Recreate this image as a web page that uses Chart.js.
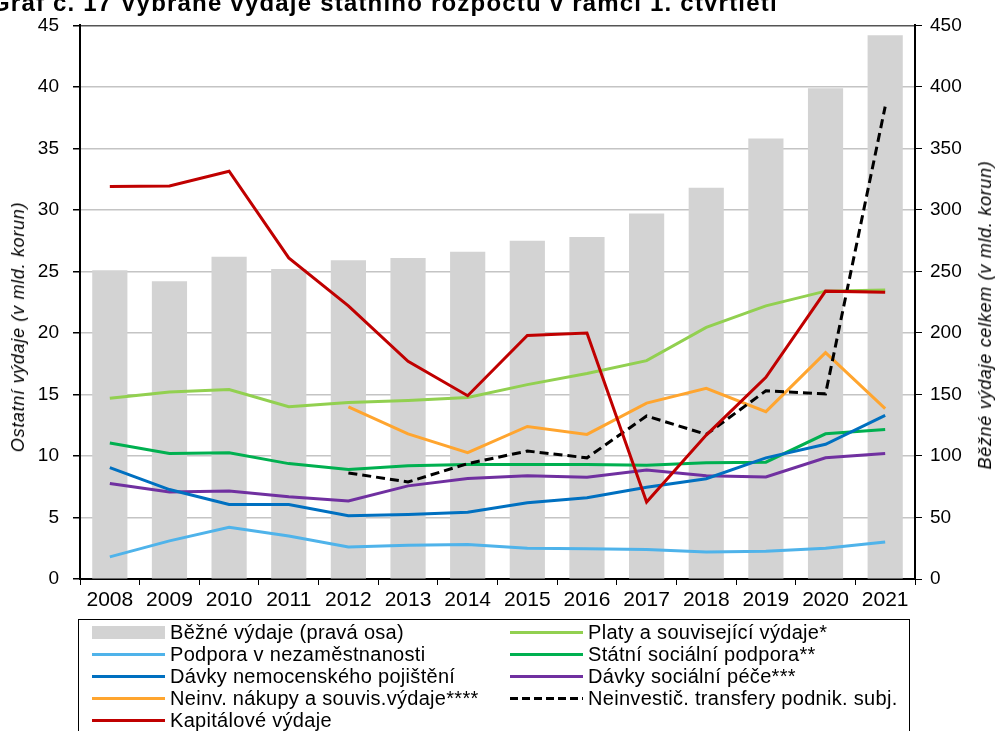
<!DOCTYPE html>
<html>
<head>
<meta charset="utf-8">
<script src="https://cdn.jsdelivr.net/npm/chart.js@4.4.1/dist/chart.umd.min.js"></script>
<style>
  html, body { margin: 0; padding: 0; background: #fff; overflow: hidden; }
  #wrap { position: relative; width: 998px; height: 731px; overflow: hidden; font-family: "Liberation Sans", Arial, sans-serif; }
  #title { position: absolute; left: -9px; top: -9px; font-weight: bold; font-size: 24px; line-height: 24px; letter-spacing: 1.2px; white-space: nowrap; color: #000; }
  .axtitle { position: absolute; font-style: italic; font-size: 18px; letter-spacing: 0.7px; white-space: nowrap; color: #000;
             transform: translate(-50%, -50%) rotate(-90deg); line-height: 20px; }
  #legend { position: absolute; left: 78px; top: 619px; width: 832px; height: 130px; border: 1.5px solid #000; box-sizing: border-box;
            display: grid; grid-template-columns: 418px 414px; grid-auto-rows: 22px; padding-top: 1px; font-size: 20px; letter-spacing: 0.3px; color: #000; }
  .item { display: flex; align-items: center; white-space: nowrap; }
  .sw { width: 73px; margin-left: 13px; margin-right: 5px; flex: none; }
</style>
</head>
<body>
<div id="wrap">
  <canvas id="chart" width="998" height="731"></canvas>
  <div id="title"></div>
  <div id="ytitle" class="axtitle" style="left:18px; top:327px;"></div>
  <div id="y1title" class="axtitle" style="left:985px; top:315px;"></div>
  <div id="legend"></div>
</div>
<script>
var titleText = 'Graf č. 17  Vybrané výdaje státního rozpočtu v rámci 1. čtvrtletí';
var leftAxisTitle = 'Ostatní výdaje (v mld. korun)';
var rightAxisTitle = 'Běžné výdaje celkem (v mld. korun)';
var years = ['2008', '2009', '2010', '2011', '2012', '2013', '2014', '2015', '2016', '2017', '2018', '2019', '2020', '2021'];

// right axis (bars)
var bezneVydaje = [251, 242, 262, 252, 259, 261, 266, 275, 278, 297, 318, 358, 399, 442];

// left axis (lines)
var platy = [14.7, 15.2, 15.4, 14.0, 14.35, 14.5, 14.75, 15.8, 16.7, 17.75, 20.45, 22.2, 23.4, 23.5];
var podporaNezam = [1.8, 3.1, 4.2, 3.5, 2.6, 2.75, 2.8, 2.5, 2.45, 2.4, 2.2, 2.25, 2.5, 3.0];
var statniSocPodpora = [11.05, 10.2, 10.27, 9.38, 8.9, 9.2, 9.3, 9.3, 9.3, 9.25, 9.45, 9.5, 11.8, 12.15];
var davkyNemoc = [9.06, 7.27, 6.05, 6.05, 5.15, 5.25, 5.42, 6.2, 6.6, 7.45, 8.15, 9.85, 10.95, 13.3];
var davkySocPece = [7.76, 7.08, 7.16, 6.68, 6.35, 7.57, 8.16, 8.4, 8.27, 8.85, 8.4, 8.3, 9.85, 10.2];
var neinvNakupy = [null, null, null, null, 14.0, 11.8, 10.27, 12.4, 11.75, 14.3, 15.5, 13.6, 18.4, 13.85];
var neinvTransfery = [null, null, null, null, 8.62, 7.89, 9.38, 10.4, 9.85, 13.25, 11.75, 15.3, 15.05, 38.4];
var kapitalove = [31.9, 31.95, 33.15, 26.1, 22.2, 17.7, 14.9, 19.8, 20.0, 6.25, 11.7, 16.4, 23.4, 23.3];

var leftTicks = { min: 0, max: 45, step: 5 };
var rightTicks = { min: 0, max: 450, step: 50 };

document.getElementById('title').textContent = titleText;
document.getElementById('ytitle').textContent = leftAxisTitle;
document.getElementById('y1title').textContent = rightAxisTitle;

function line(label, data, color, order, dash) {
    return {
        type: 'line',
        label: label,
        data: data,
        borderColor: color,
        backgroundColor: color,
        borderWidth: 3,
        borderDash: dash || [],
        pointRadius: 0,
        fill: false,
        tension: 0,
        yAxisID: 'y',
        order: order
    };
}

var datasets = [
    {
        type: 'bar',
        label: 'Běžné výdaje (pravá osa)',
        data: bezneVydaje,
        backgroundColor: '#d3d3d3',
        yAxisID: 'y1',
        barPercentage: 0.59,
        categoryPercentage: 1,
        order: 20
    },
    line('Platy a související výdaje*', platy, '#92d050', 8),
    line('Podpora v nezaměstnanosti', podporaNezam, '#4fb3ea', 9),
    line('Státní sociální podpora**', statniSocPodpora, '#00b050', 7),
    line('Dávky nemocenského pojištění', davkyNemoc, '#0070c0', 5),
    line('Dávky sociální péče***', davkySocPece, '#7030a0', 6),
    line('Neinv. nákupy a souvis.výdaje****', neinvNakupy, '#ffa52f', 4),
    line('Neinvestič. transfery podnik. subj.', neinvTransfery, '#000000', 3, [9, 5]),
    line('Kapitálové výdaje', kapitalove, '#c00000', 1)
];

var fontFamily = '"Liberation Sans", Arial, sans-serif';

var ctx = document.getElementById('chart').getContext('2d');
var chart = new Chart(ctx, {
    data: { labels: years, datasets: datasets },
    options: {
        responsive: false,
        animation: false,
        layout: { padding: { top: 24, left: 0, right: 0, bottom: 0 } },
        plugins: {
            legend: { display: false },
            tooltip: { enabled: false }
        },
        scales: {
            x: {
                offset: true,
                grid: { offset: true, drawOnChartArea: false, tickLength: 6, color: '#000', tickWidth: 1 },
                border: { color: '#000', width: 2 },
                ticks: { color: '#000', font: { family: fontFamily, size: 21 }, maxRotation: 0, autoSkip: false, padding: 3 },
                afterFit: function (scale) { scale.height = 152; }
            },
            y: {
                position: 'left',
                min: leftTicks.min,
                max: leftTicks.max,
                ticks: { stepSize: leftTicks.step, color: '#000', font: { family: fontFamily, size: 19 }, padding: 14 },
                grid: {
                    color: function (c) { return c.tick && c.tick.value === leftTicks.max ? '#555' : '#c4c4c4'; },
                    lineWidth: 1.5,
                    tickColor: '#000',
                    tickLength: 7
                },
                border: { color: '#000', width: 2 },
                afterFit: function (scale) { scale.width = 80; }
            },
            y1: {
                position: 'right',
                min: rightTicks.min,
                max: rightTicks.max,
                ticks: { stepSize: rightTicks.step, color: '#000', font: { family: fontFamily, size: 19 }, padding: 8 },
                grid: { drawOnChartArea: false, tickColor: '#000', tickLength: 7 },
                border: { color: '#000', width: 2 },
                afterFit: function (scale) { scale.width = 83; }
            }
        }
    }
});

// HTML legend in two columns, built from the chart datasets
var legendEl = document.getElementById('legend');
chart.data.datasets.forEach(function (ds) {
    var item = document.createElement('div');
    item.className = 'item';
    var sw = document.createElement('div');
    sw.className = 'sw';
    if (ds.type === 'bar') {
        sw.style.height = '13px';
        sw.style.background = ds.backgroundColor;
    } else if (ds.borderDash.length) {
        sw.style.height = '3px';
        sw.style.background = 'repeating-linear-gradient(to right, ' + ds.borderColor + ' 0 8px, transparent 8px 12px)';
    } else {
        sw.style.height = '3px';
        sw.style.background = ds.borderColor;
    }
    var txt = document.createElement('span');
    txt.textContent = ds.label;
    item.appendChild(sw);
    item.appendChild(txt);
    legendEl.appendChild(item);
});
</script>
</body>
</html>
